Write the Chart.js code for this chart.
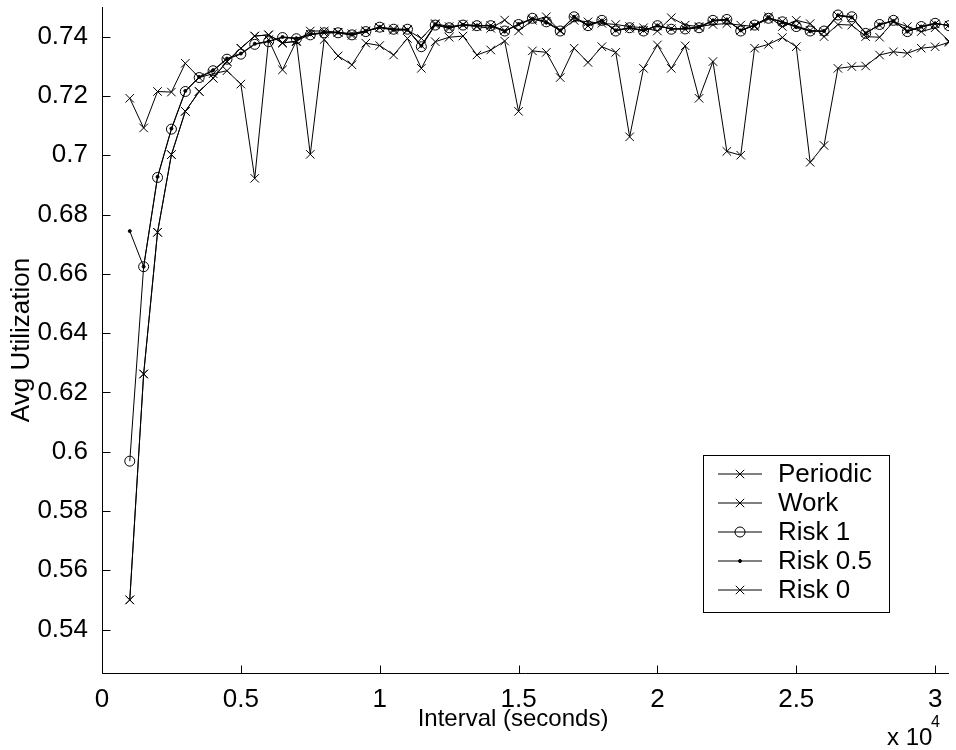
<!DOCTYPE html>
<html>
<head>
<meta charset="utf-8">
<script src="https://cdn.jsdelivr.net/npm/chart.js@4.4.0/dist/chart.umd.min.js"></script>
<style>
  html, body { margin: 0; padding: 0; background: #fff; }
  #wrap { width: 956px; height: 750px; }
</style>
</head>
<body>
<div id="wrap"><canvas id="utilChart" width="956" height="750"></canvas></div>
<script>
// ===== DATA =====
const intervals = [1000, 1500, 2000, 2500, 3000, 3500, 4000, 4500, 5000, 5500,
  6000, 6500, 7000, 7500, 8000, 8500, 9000, 9500, 10000, 10500,
  11000, 11500, 12000, 12500, 13000, 13500, 14000, 14500, 15000, 15500,
  16000, 16500, 17000, 17500, 18000, 18500, 19000, 19500, 20000, 20500,
  21000, 21500, 22000, 22500, 23000, 23500, 24000, 24500, 25000, 25500,
  26000, 26500, 27000, 27500, 28000, 28500, 29000, 29500, 30000, 30500];

const periodic = [0.7192, 0.7092, 0.7215, 0.7213, 0.7310, 0.7262, 0.7275, 0.7285, 0.7240, 0.6922,
  0.7390, 0.7288, 0.7385, 0.7003, 0.7390, 0.7335, 0.7305, 0.7378, 0.7370, 0.7338,
  0.7394, 0.7293, 0.7383, 0.7398, 0.7402, 0.7338, 0.7355, 0.7385, 0.7148, 0.7352,
  0.7347, 0.7262, 0.7361, 0.7313, 0.7366, 0.7347, 0.7062, 0.7293, 0.7372, 0.7293,
  0.7369, 0.7192, 0.7316, 0.7013, 0.7000, 0.7361, 0.7374, 0.7397, 0.7366, 0.6976,
  0.7033, 0.7293, 0.7299, 0.7301, 0.7338, 0.7349, 0.7344, 0.7361, 0.7366, 0.7381];

const work = [0.5500, 0.6262, 0.6740, 0.7002, 0.7148, 0.7215, 0.7260, 0.7316, 0.7361, 0.7402,
  0.7406, 0.7380, 0.7383, 0.7419, 0.7419, 0.7415, 0.7410, 0.7420, 0.7430, 0.7422,
  0.7422, 0.7394, 0.7444, 0.7434, 0.7439, 0.7434, 0.7428, 0.7456, 0.7419, 0.7455,
  0.7467, 0.7419, 0.7455, 0.7450, 0.7445, 0.7441, 0.7434, 0.7430, 0.7419, 0.7464,
  0.7439, 0.7434, 0.7441, 0.7444, 0.7439, 0.7434, 0.7467, 0.7434, 0.7455, 0.7444,
  0.7400, 0.7441, 0.7439, 0.7400, 0.7398, 0.7450, 0.7434, 0.7417, 0.7430, 0.7385];

const risk1 = [0.5968, 0.6624, 0.6925, 0.7088, 0.7215, 0.7262, 0.7285, 0.7324, 0.7341, 0.7374,
  0.7383, 0.7397, 0.7393, 0.7406, 0.7413, 0.7413, 0.7406, 0.7417, 0.7432, 0.7425,
  0.7425, 0.7366, 0.7439, 0.7430, 0.7439, 0.7437, 0.7437, 0.7419, 0.7441, 0.7462,
  0.7450, 0.7419, 0.7467, 0.7437, 0.7455, 0.7419, 0.7430, 0.7419, 0.7437, 0.7425,
  0.7426, 0.7430, 0.7455, 0.7458, 0.7419, 0.7439, 0.7462, 0.7450, 0.7434, 0.7419,
  0.7419, 0.7473, 0.7467, 0.7411, 0.7441, 0.7455, 0.7417, 0.7434, 0.7445, 0.7437];

const risk05 = [0.6744, 0.6624, 0.6927, 0.7090, 0.7217, 0.7264, 0.7287, 0.7326, 0.7343, 0.7376,
  0.7385, 0.7399, 0.7395, 0.7408, 0.7415, 0.7414, 0.7408, 0.7419, 0.7433, 0.7423,
  0.7423, 0.7369, 0.7441, 0.7432, 0.7440, 0.7438, 0.7436, 0.7417, 0.7443, 0.7460,
  0.7447, 0.7421, 0.7467, 0.7439, 0.7454, 0.7421, 0.7431, 0.7421, 0.7438, 0.7426,
  0.7428, 0.7433, 0.7455, 0.7458, 0.7421, 0.7440, 0.7465, 0.7448, 0.7432, 0.7418,
  0.7419, 0.7472, 0.7465, 0.7411, 0.7441, 0.7453, 0.7417, 0.7434, 0.7445, 0.7437];

const risk0 = [0.5500, 0.6262, 0.6740, 0.7002, 0.7148, 0.7215, 0.7260, 0.7316, 0.7361, 0.7402,
  0.7406, 0.7378, 0.7385, 0.7408, 0.7412, 0.7414, 0.7404, 0.7418, 0.7431, 0.7426,
  0.7424, 0.7370, 0.7440, 0.7428, 0.7441, 0.7436, 0.7438, 0.7421, 0.7440, 0.7460,
  0.7452, 0.7421, 0.7465, 0.7436, 0.7453, 0.7421, 0.7428, 0.7421, 0.7436, 0.7427,
  0.7425, 0.7431, 0.7453, 0.7456, 0.7421, 0.7438, 0.7460, 0.7451, 0.7436, 0.7421,
  0.7417, 0.7470, 0.7465, 0.7413, 0.7439, 0.7453, 0.7419, 0.7432, 0.7443, 0.7439];

const xTickValues = [0, 5000, 10000, 15000, 20000, 25000, 30000];
const xTickLabels = ['0', '0.5', '1', '1.5', '2', '2.5', '3'];
const yTickValues = [0.54, 0.56, 0.58, 0.60, 0.62, 0.64, 0.66, 0.68, 0.70, 0.72, 0.74];
const yTickLabels = ['0.54', '0.56', '0.58', '0.6', '0.62', '0.64', '0.66', '0.68', '0.7', '0.72', '0.74'];

const FONT = '"Liberation Sans", Arial, Helvetica, sans-serif';

function toPoints(ys) {
  return intervals.map((x, i) => ({ x: x, y: ys[i] }));
}

function series(label, ys, style, radius, fill) {
  return {
    label: label,
    data: toPoints(ys),
    borderColor: '#000',
    borderWidth: 1,
    pointStyle: style,
    pointRadius: radius,
    pointBorderColor: '#000',
    pointBorderWidth: 1,
    pointBackgroundColor: fill,
    fill: false,
    tension: 0
  };
}

// ===== AXES / LEGEND / LABELS (MATLAB look) =====
const matlabLook = {
  id: 'matlabLook',
  afterDraw(chart) {
    const c = chart.ctx;
    const area = chart.chartArea;
    const xs = chart.scales.x, ys = chart.scales.y;
    const L = Math.round(area.left) + 0.5, B = Math.round(area.bottom) - 0.5;
    c.save();
    c.strokeStyle = '#000';
    c.lineWidth = 1;
    // axis lines
    c.beginPath();
    c.moveTo(L, Math.round(area.top));
    c.lineTo(L, B);
    c.lineTo(Math.round(area.right), B);
    c.stroke();
    // inward ticks
    c.beginPath();
    xs.ticks.forEach(t => {
      const px = Math.round(xs.getPixelForValue(t.value)) + 0.5;
      c.moveTo(px, B);
      c.lineTo(px, B - 8);
    });
    ys.ticks.forEach(t => {
      const py = Math.round(ys.getPixelForValue(t.value)) + 0.5;
      c.moveTo(L, py);
      c.lineTo(L + 8, py);
    });
    c.stroke();

    // axis titles
    c.fillStyle = '#000';
    c.font = '24px ' + FONT;
    c.textAlign = 'center';
    c.textBaseline = 'middle';
    c.fillText('Interval (seconds)', 513, 719);
    c.font = '26px ' + FONT;
    c.save();
    c.translate(22, 340);
    c.rotate(-Math.PI / 2);
    c.fillText('Avg Utilization', 0, 0);
    c.restore();

    // x 10^4
    c.textAlign = 'left';
    c.textBaseline = 'alphabetic';
    c.font = '24px ' + FONT;
    c.fillText('x 10', 887, 745);
    c.font = '16px ' + FONT;
    c.fillText('4', 931, 727);

    // legend box
    c.fillStyle = '#fff';
    c.fillRect(703.5, 455.5, 186, 157);
    c.strokeRect(703.5, 455.5, 186, 157);
    chart.data.datasets.forEach((ds, i) => {
      const y = 474 + i * 29;
      c.beginPath();
      c.moveTo(718, y);
      c.lineTo(762, y);
      c.stroke();
      const mx = 740, r = ds.pointRadius;
      c.beginPath();
      if (ds.pointStyle === 'crossRot') {
        const d = r * Math.SQRT1_2;
        c.moveTo(mx - d, y - d); c.lineTo(mx + d, y + d);
        c.moveTo(mx - d, y + d); c.lineTo(mx + d, y - d);
        c.stroke();
      } else {
        c.arc(mx, y, r, 0, Math.PI * 2);
        if (ds.pointBackgroundColor === '#000') { c.fillStyle = '#000'; c.fill(); }
        c.stroke();
      }
      c.fillStyle = '#000';
      c.font = '26px ' + FONT;
      c.textBaseline = 'middle';
      c.fillText(ds.label, 778, y + 1);
    });
    c.restore();
  }
};

const ctx = document.getElementById('utilChart');
const utilChart = new Chart(ctx, {
  type: 'line',
  data: {
    datasets: [
      series('Periodic', periodic, 'crossRot', 6, 'rgba(0,0,0,0)'),
      series('Work', work, 'crossRot', 6, 'rgba(0,0,0,0)'),
      series('Risk 1', risk1, 'circle', 5, 'rgba(0,0,0,0)'),
      series('Risk 0.5', risk05, 'circle', 1.5, '#000'),
      series('Risk 0', risk0, 'crossRot', 6, 'rgba(0,0,0,0)')
    ]
  },
  options: {
    responsive: false,
    animation: false,
    devicePixelRatio: 1,
    layout: { padding: { top: 6, right: 7, left: 0, bottom: 0 } },
    plugins: {
      legend: { display: false },
      tooltip: { enabled: false }
    },
    scales: {
      x: {
        type: 'linear',
        min: 0,
        max: 30500,
        grid: { display: false },
        border: { display: false },
        afterBuildTicks: s => { s.ticks = xTickValues.map(v => ({ value: v })); },
        ticks: {
          autoSkip: false,
          maxRotation: 0,
          padding: 2,
          color: '#000',
          font: { family: FONT, size: 26 },
          callback: (v, i) => xTickLabels[i]
        },
        afterFit: s => {
          s.height = 76;
          s.paddingLeft = 0;
          s.paddingRight = 0;
        }
      },
      y: {
        type: 'linear',
        min: 0.525,
        max: 0.75,
        grid: { display: false },
        border: { display: false },
        afterBuildTicks: s => { s.ticks = yTickValues.map(v => ({ value: v })); },
        ticks: {
          autoSkip: false,
          padding: 6,
          color: '#000',
          font: { family: FONT, size: 26 },
          callback: (v, i) => yTickLabels[i]
        },
        afterFit: s => {
          s.width = 102;
          s.paddingTop = 0;
          s.paddingBottom = 0;
        }
      }
    }
  },
  plugins: [matlabLook]
});
</script>
</body>
</html>
